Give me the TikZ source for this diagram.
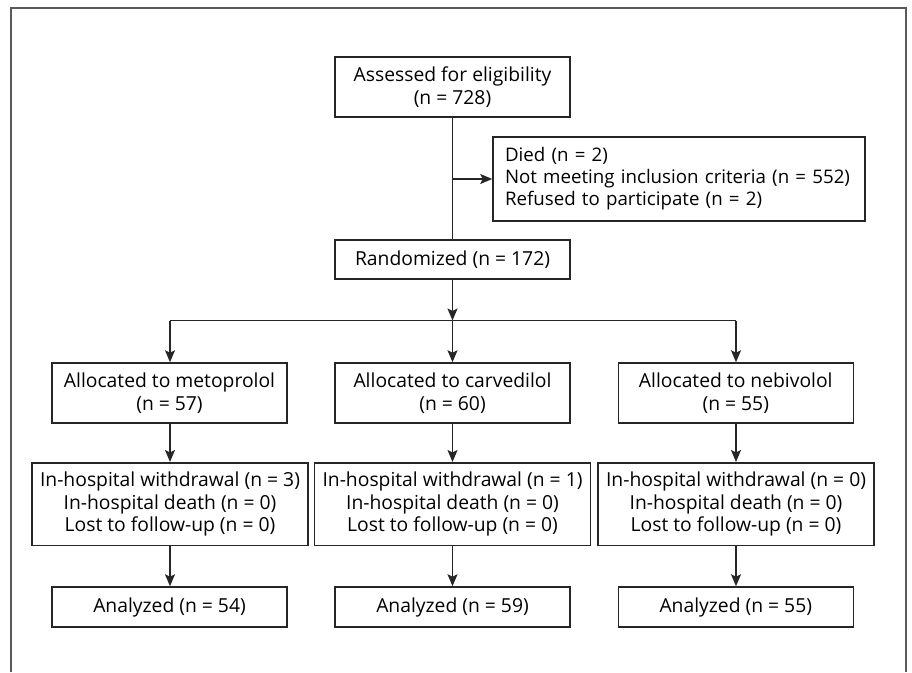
\documentclass[tikz,border=0pt]{standalone}
\usepackage{fontspec}
\setmainfont{Open Sans}
\usetikzlibrary{arrows.meta}
\definecolor{linec}{HTML}{262626}
\definecolor{framec}{HTML}{5A5A5A}
\begin{document}
\begin{tikzpicture}[x=1pt,y=-1pt,
  box/.style={draw=linec, line width=1.5pt, align=center, inner sep=0pt,
    font=\fontsize{19.3}{22.5}\selectfont, text=black},
  conn/.style={draw=linec, line width=1.6pt},
  arr/.style={conn, -{Stealth[length=12pt,width=10pt,inset=2.5pt]}}]
\useasboundingbox (0,0) rectangle (912,672);
\draw[framec, line width=1.8pt] (11,672) -- (11,8) -- (906,8) -- (906,672);

\node[box, minimum width=235pt, minimum height=60pt] (assess) at (452.5,87)
  {Assessed for eligibility\\(n = 728)};
\node[box, minimum height=84pt, align=left, inner xsep=12pt, text width=348pt,
  font=\fontsize{18.7}{22}\selectfont] (excl) at (679,179)
  {\mbox{Died (n = 2)}\\\mbox{Not meeting inclusion criteria (n = 552)}\\\mbox{Refused to participate (n = 2)}};
\node[box, minimum width=235pt, minimum height=39pt] (rand) at (452.5,259.5)
  {Randomized (n = 172)};

\node[box, minimum width=235pt, minimum height=60pt] (a1) at (169.5,393)
  {Allocated to metoprolol\\(n = 57)};
\node[box, minimum width=235pt, minimum height=60pt] (a2) at (452.5,393)
  {Allocated to carvedilol\\(n = 60)};
\node[box, minimum width=235pt, minimum height=60pt] (a3) at (735.75,393)
  {Allocated to nebivolol\\(n = 55)};

\node[box, minimum width=276pt, minimum height=82.5pt] (w1) at (170,504)
  {In-hospital withdrawal (n = 3)\\In-hospital death (n = 0)\\Lost to follow-up (n = 0)};
\node[box, minimum width=276pt, minimum height=82.5pt] (w2) at (452.5,504)
  {In-hospital withdrawal (n = 1)\\In-hospital death (n = 0)\\Lost to follow-up (n = 0)};
\node[box, minimum width=276pt, minimum height=82.5pt] (w3) at (736,504)
  {In-hospital withdrawal (n = 0)\\In-hospital death (n = 0)\\Lost to follow-up (n = 0)};

\node[box, minimum width=235pt, minimum height=40pt] (n1) at (169.5,607)
  {Analyzed (n = 54)};
\node[box, minimum width=235pt, minimum height=40pt] (n2) at (452.5,607)
  {Analyzed (n = 59)};
\node[box, minimum width=235pt, minimum height=40pt] (n3) at (735.75,607)
  {Analyzed (n = 55)};

\coordinate (j1) at (452.5,179);
\coordinate (jm) at (452.5,320.5);
\coordinate (jl) at (170,320.5);
\coordinate (jr) at (736,320.5);

\draw[conn] (assess.south) -- (rand.north);
\draw[arr] (j1) -- (excl.west);
\draw[arr] (rand.south) -- (jm);
\draw[conn] (jl) -- (jr);
\draw[arr] (jl) -- (jl |- a1.north);
\draw[arr] (jm) -- (a2.north);
\draw[arr] (jr) -- (jr |- a3.north);

\draw[arr] (a1.south -| w1.north) -- (w1.north);
\draw[arr] (a2.south) -- (w2.north);
\draw[arr] (a3.south -| w3.north) -- (w3.north);
\draw[arr] (w1.south) -- (w1.south |- n1.north);
\draw[arr] (w2.south) -- (n2.north);
\draw[arr] (w3.south) -- (w3.south |- n3.north);
\end{tikzpicture}
\end{document}
